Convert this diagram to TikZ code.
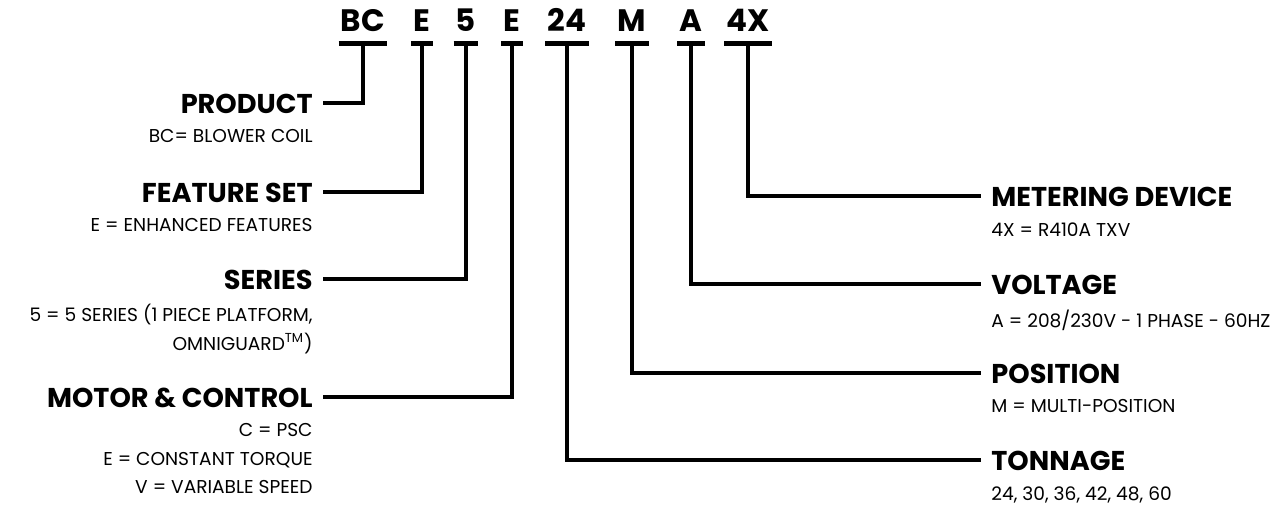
\documentclass[tikz,border=0pt]{standalone}
\usepackage{fontspec}
\setmainfont{Poppins}
\usetikzlibrary{positioning}

\begin{document}
\begin{tikzpicture}[x=0.5pt,y=-0.5pt,
  code/.style={anchor=base, inner xsep=1pt, inner ysep=6pt,
               font=\fontsize{15.5}{18}\selectfont\bfseries},
  head/.style={inner sep=0pt, font=\fontsize{13.6}{16}\selectfont\bfseries},
  desc/.style={inner sep=0pt, font=\fontsize{9.3}{14.25}\selectfont},
  bar/.style={line width=2.5pt},
  conn/.style={line width=2pt, shorten >=5pt}
]
  \useasboundingbox (0,0) rectangle (1287,505);

  %% Model number
  \foreach \n/\x/\t in {bc/363/BC, fs/422/E, sr/466/5, mc/512/E,
                        tn/567/24, ps/632/M, vt/691/A, md/748/4X}
  {
    \node[code] (\n) at (\x,31) {\t};
    \draw[bar] (\n.south west) -- (\n.south east);
  }

  %% Left side
  \node[head, anchor=base east] (product) at (313,113) {PRODUCT};
  \node[desc, below left=8pt and 0pt of product.base east, align=right]
    (product-d) {BC= BLOWER COIL};
  \node[head, anchor=base east] (feature) at (313,202) {FEATURE SET};
  \node[desc, below left=8pt and 0pt of feature.base east, align=right]
    (feature-d) {E = ENHANCED FEATURES};
  \node[head, anchor=base east] (series) at (313,289) {SERIES};
  \node[desc, below left=7.5pt and 0pt of series.base east, align=right]
    (series-d) {5 = 5 SERIES (1 PIECE PLATFORM,\\ OMNIGUARD\textsuperscript{TM})};
  \node[head, anchor=base east] (motor) at (313,407) {MOTOR \& CONTROL};
  \node[desc, below left=8pt and 0pt of motor.base east, align=right]
    (motor-d) {C = PSC\\ E = CONSTANT TORQUE\\ V = VARIABLE SPEED};

  %% Right side
  \node[head, anchor=base west] (metering) at (991,206) {METERING DEVICE};
  \node[desc, below right=8pt and 0pt of metering.base west, align=left]
    (metering-d) {4X = R410A TXV};
  \node[head, anchor=base west] (voltage) at (991,294) {VOLTAGE};
  \node[desc, below right=8pt and 0pt of voltage.base west, align=left]
    (voltage-d) {A = 208/230V - 1 PHASE - 60HZ};
  \node[head, anchor=base west] (position) at (991,383) {POSITION};
  \node[desc, below right=8pt and 0pt of position.base west, align=left]
    (position-d) {M = MULTI-POSITION};
  \node[head, anchor=base west] (tonnage) at (991,470) {TONNAGE};
  \node[desc, below right=8pt and 0pt of tonnage.base west, align=left]
    (tonnage-d) {24, 30, 36, 42, 48, 60};

  %% Connectors
  \draw[conn] (bc.south) |- (product.east);
  \draw[conn] (fs.south) |- (feature.east);
  \draw[conn] (sr.south) |- (series.east);
  \draw[conn] (mc.south) |- (motor.east);
  \draw[conn] (md.south) |- (metering.west);
  \draw[conn] (vt.south) |- (voltage.west);
  \draw[conn] (ps.south) |- (position.west);
  \draw[conn] (tn.south) |- (tonnage.west);
\end{tikzpicture}
\end{document}
